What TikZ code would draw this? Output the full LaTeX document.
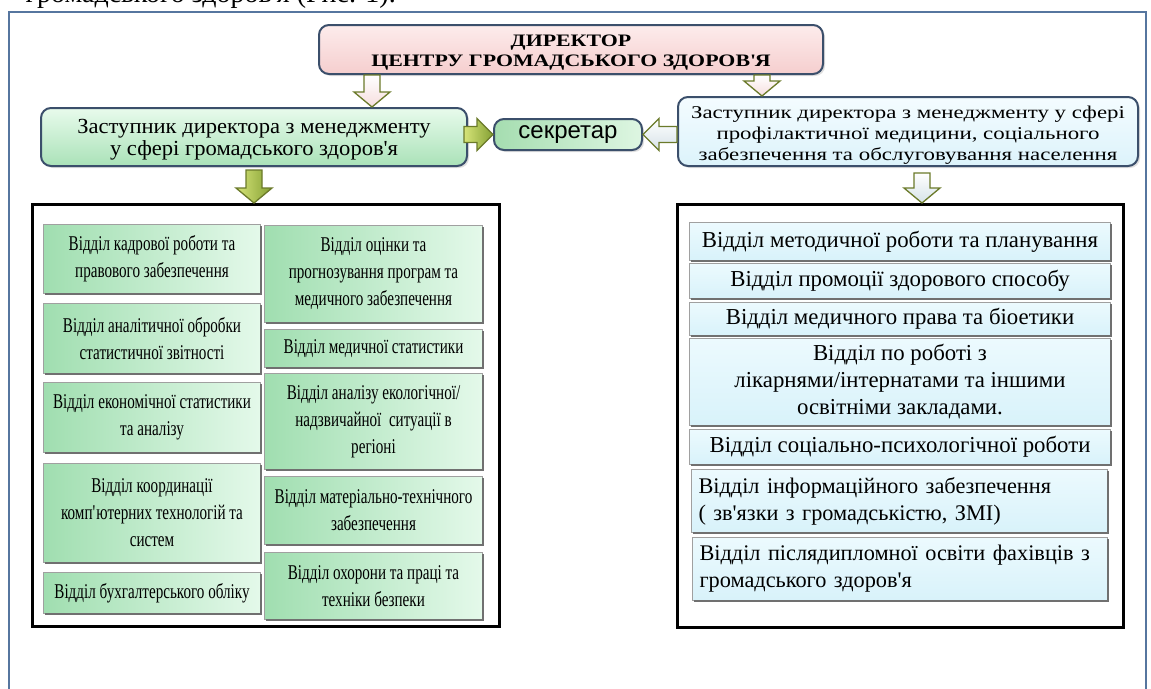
\documentclass[tikz,border=0pt]{standalone}
\usepackage{fontspec}
\setmainfont{Liberation Serif}
\newfontfamily\condf[FakeStretch=0.72]{Liberation Serif}
\newfontfamily\widef[FakeStretch=1.25]{Liberation Serif}
\newfontfamily\ldepf[FakeStretch=1.05]{Liberation Serif}
\newfontfamily\rdepf[FakeStretch=1.27]{Liberation Serif}
\newfontfamily\sansf{Liberation Sans}
\newcommand\ap{\textquotesingle}
\newcommand\lowered[2]{\raisebox{-#1}[\height][\depth]{\begin{tabular}{@{}c@{}}#2\end{tabular}}}
\usetikzlibrary{calc,shadows}
\definecolor{framec}{HTML}{56769F}
\definecolor{boxb}{HTML}{3B4F6B}
\definecolor{arrowc}{HTML}{6B7A2A}
\definecolor{deptb}{HTML}{A0A0A0}
\definecolor{depts}{HTML}{707070}

\newcommand\varrow[3]{%
  \path[#1] let \p1=(#2), \p2=(#3) in
   (\x1-8,\y1) -- (\x1+8,\y1) -- (\x1+8,\y2+15) -- (\x1+18,\y2+15) -- (\x1,\y2)
   -- (\x1-18,\y2+15) -- (\x1-8,\y2+15) -- cycle;}
\newcommand\harrow[3]{%
  \path[#1] let \p1=(#2), \p2=(#3), \n1={ifthenelse(\x2>\x1,1,-1)} in
   (\x1,\y1-8) -- (\x2-\n1*16,\y1-8) -- (\x2-\n1*16,\y1-16) -- (\x2,\y1)
   -- (\x2-\n1*16,\y1+16) -- (\x2-\n1*16,\y1+8) -- (\x1,\y1+8) -- cycle;}

\begin{document}
\begin{tikzpicture}[x=1pt,y=-1pt,
  rbox/.style={draw=boxb, line width=2pt, rounded corners=10pt, inner sep=0pt,
     anchor=north west, align=center, drop shadow={shadow xshift=2pt, shadow yshift=-2pt, opacity=0.25}},
  gdept/.style={draw=deptb, line width=1pt, inner sep=0pt, anchor=north west, align=center,
     left color={rgb,255:red,160;green,222;blue,176}, right color={rgb,255:red,228;green,249;blue,234},
     font=\condf\fontsize{21}{27}\selectfont},
  bdept/.style={draw=deptb, line width=1pt, inner sep=0pt, anchor=north west, align=center,
     top color={rgb,255:red,236;green,250;blue,254}, bottom color={rgb,255:red,216;green,242;blue,250},
     font=\fontsize{22.8}{27}\selectfont},
  dshadow/.style={draw=depts, line width=2.5pt},
  frame/.style={draw=black, line width=3pt, fill=white, inner sep=0pt, anchor=north west},
  hollowp/.style={draw=arrowc, line width=1.3pt, top color=white, bottom color={rgb,255:red,246;green,222;blue,222}},
  hollowb/.style={draw=arrowc, line width=1.3pt, top color=white, bottom color={rgb,255:red,214;green,226;blue,232}},
  greena/.style={draw=arrowc, line width=1.3pt, left color={rgb,255:red,214;green,228;blue,120}, right color={rgb,255:red,132;green,160;blue,52}}
]
\useasboundingbox (0,0) rectangle (1151,688);
\fill[white] (0,0) rectangle (1151,688);

% clipped text line from the page above
\node[anchor=base east, inner sep=0pt, font=\fontsize{28}{30}\selectfont] (captop) at (396,2) {громадського здоров\ap я (Рис. 1).};

% outer frame
\draw[framec, line width=2pt] (9,12) rectangle (1146,700);

% top level
\node[rbox, minimum width=504, minimum height=49,
      top color={rgb,255:red,253;green,236;blue,236}, bottom color={rgb,255:red,245;green,206;blue,206},
      font=\widef\bfseries\fontsize{17.5}{20}\selectfont] (dir) at (318,24)
  {\lowered{3pt}{ДИРЕКТОР\\ЦЕНТРУ ГРОМАДСЬКОГО ЗДОРОВ\ap Я}};

\node[rbox, minimum width=426, minimum height=58,
      top color={rgb,255:red,232;green,251;blue,236}, bottom color={rgb,255:red,170;green,226;blue,184},
      font=\ldepf\fontsize{21.5}{22.5}\selectfont] (ldep) at (40,107)
  {\lowered{3pt}{Заступник директора з менеджменту\\у сфері громадського здоров\ap я}};

\node[rbox, minimum width=148, minimum height=31,
      left color={rgb,255:red,165;green,221;blue,176}, right color={rgb,255:red,222;green,246;blue,226},
      font=\sansf\fontsize{24}{26}\selectfont] (sec) at (493,118) {секретар};

\node[rbox, minimum width=460, minimum height=69,
      top color={rgb,255:red,244;green,252;blue,255}, bottom color={rgb,255:red,220;green,243;blue,251},
      font=\rdepf\fontsize{18}{21}\selectfont] (rdep) at (677,96)
  {\lowered{4pt}{Заступник директора з менеджменту у сфері\\профілактичної медицини, соціального\\забезпечення та обслуговування населення}};

% department frames
\node[frame, minimum width=467, minimum height=422] (lf) at (31,203) {};
\node[frame, minimum width=446, minimum height=423] (rf) at (676,203) {};

% left column
\node[gdept, minimum width=217, minimum height=69] (l1) at (43,224) {Відділ кадрової роботи та\\правового забезпечення};
\node[gdept, minimum width=217, minimum height=70] (l2) at (43,303) {Відділ аналітичної обробки\\статистичної звітності};
\node[gdept, minimum width=217, minimum height=70] (l3) at (43,382) {Відділ економічної статистики\\та аналізу};
\node[gdept, minimum width=217, minimum height=99] (l4) at (43,463) {Відділ координації\\комп\ap ютерних технологій та\\систем};
\node[gdept, minimum width=217, minimum height=41] (l5) at (43,572) {Відділ бухгалтерського обліку};
% second column
\node[gdept, minimum width=218, minimum height=97] (m1) at (264,225) {Відділ оцінки та\\прогнозування програм та\\медичного забезпечення};
\node[gdept, minimum width=218, minimum height=38] (m2) at (264,329) {Відділ медичної статистики};
\node[gdept, minimum width=218, minimum height=96] (m3) at (264,373) {Відділ аналізу екологічної/\\надзвичайної\ \ ситуації в\\регіоні};
\node[gdept, minimum width=218, minimum height=68] (m4) at (264,476) {Відділ матеріально-технічного\\забезпечення};
\node[gdept, minimum width=218, minimum height=67] (m5) at (264,552) {Відділ охорони та праці та\\техніки безпеки};

% right departments
\node[bdept, minimum width=421, minimum height=38] (b1) at (689,222) {Відділ методичної роботи та планування};
\node[bdept, minimum width=421, minimum height=35] (b2) at (689,263) {Відділ промоції здорового способу};
\node[bdept, minimum width=421, minimum height=33] (b3) at (689,302) {Відділ медичного права та біоетики};
\node[bdept, minimum width=421, minimum height=87] (b4) at (689,338) {Відділ по роботі з\\лікарнями/інтернатами та іншими\\освітніми закладами.};
\node[bdept, minimum width=421, minimum height=35] (b5) at (689,429) {Відділ соціально-психологічної роботи};
\node[bdept, minimum width=416, minimum height=63, align=left, inner xsep=7pt, text width=402,
      font=\fontsize{22.3}{27}\selectfont] (b6) at (691,469) {Відділ інформаційного забезпечення\\( зв\ap язки з громадськістю, ЗМІ)};
\node[bdept, minimum width=415, minimum height=63, align=left, inner xsep=7pt, text width=401,
      font=\fontsize{22.3}{27}\selectfont] (b7) at (692,537) {Відділ післядипломної освіти фахівців\ з\\громадського здоров\ap я};

\foreach \n in {l1,l2,l3,l4,l5,m1,m2,m3,m4,m5,b1,b2,b3,b4,b5,b6,b7}
  \draw[dshadow] ([yshift=-2pt]\n.north east) -- (\n.south east) -- ([xshift=2pt]\n.south west);

% arrows
\coordinate (xa1) at (372,0);
\coordinate (xa2) at (762,0);
\coordinate (xa3) at (254,0);
\coordinate (xa4) at (922,0);
\varrow{hollowp}{xa1 |- dir.south}{xa1 |- ldep.north}
\varrow{hollowp}{xa2 |- dir.south}{xa2 |- rdep.north}
\varrow{greena}{$(xa3 |- ldep.south)+(0,3)$}{xa3 |- lf.north}
\varrow{hollowb}{$(xa4 |- rdep.south)+(0,6)$}{xa4 |- rf.north}
\harrow{greena}{$(ldep.east |- sec.west)+(-4,0)$}{sec.west}
\harrow{hollowb}{rdep.west |- sec.east}{sec.east}
\end{tikzpicture}
\end{document}
